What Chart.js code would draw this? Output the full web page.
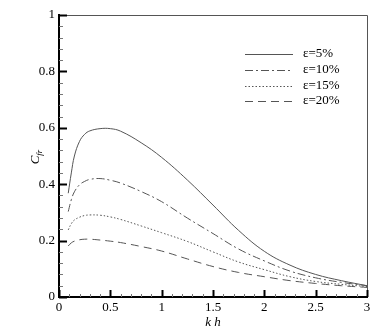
<!DOCTYPE html>
<html><head><meta charset="utf-8">
<script src="https://cdn.jsdelivr.net/npm/chart.js@4/dist/chart.umd.min.js"></script>
<style>html,body{margin:0;padding:0;background:#fff}#wrap{width:379px;height:336px}</style>
</head><body><div id="wrap"><canvas id="c" width="379" height="336"></canvas></div>
<script>
const kh    = [0.09,0.12,0.15,0.2,0.25,0.3,0.4,0.5,0.6,0.8,1.0,1.25,1.5,1.75,2.0,2.25,2.5,2.75,3.0];
const eps5  = [0.368,0.44,0.50,0.552,0.577,0.589,0.597,0.597,0.588,0.547,0.495,0.415,0.326,0.236,0.162,0.113,0.080,0.058,0.040];
const eps10 = [0.303,0.345,0.373,0.398,0.410,0.417,0.420,0.414,0.404,0.374,0.338,0.280,0.225,0.170,0.128,0.092,0.068,0.052,0.040];
const eps15 = [0.238,0.260,0.273,0.283,0.289,0.291,0.290,0.284,0.275,0.252,0.228,0.197,0.160,0.124,0.097,0.072,0.055,0.045,0.037];
const eps20 = [0.181,0.192,0.198,0.203,0.205,0.205,0.202,0.198,0.193,0.179,0.163,0.135,0.108,0.087,0.072,0.058,0.048,0.040,0.034];
const seriesLabels = ['ε=5%','ε=10%','ε=15%','ε=20%'];
const xTitle = 'k h';
const yTitleMain = 'C', yTitleSub = 'fr';

const dashes = [[], [8,3,2,3], [1.5,2], [8,5]];
const vals = [eps5, eps10, eps15, eps20];
const SERIF = "'Liberation Serif', serif";

const datasets = vals.map((v,i)=>({
  label: seriesLabels[i],
  data: kh.map((x,j)=>({x:x,y:v[j]})),
  borderColor:'#555', borderWidth:1, borderDash:dashes[i],
  pointRadius:0, fill:false, tension:0.4
}));

const deco = {
  id:'deco',
  afterDraw(chart){
    const ctx = chart.ctx, xs = chart.scales.x, ys = chart.scales.y, a = chart.chartArea;
    ctx.save();
    ctx.strokeStyle='#555'; ctx.lineWidth=1;
    ctx.beginPath();
    ctx.moveTo(a.left, a.top+0.5); ctx.lineTo(a.right+0.5, a.top+0.5); ctx.lineTo(a.right+0.5, a.bottom);
    ctx.stroke();
    for (let k=0;k<=25;k++){
      const v = k*0.04; const p = Math.round(ys.getPixelForValue(v))+0.5;
      const major = (k%5===0);
      ctx.lineWidth = major?2:1;
      ctx.strokeStyle = major?'#000':'#777';
      ctx.beginPath(); ctx.moveTo(a.left, p); ctx.lineTo(a.left+(major?8:4), p); ctx.stroke();
    }
    for (let k=0;k<=30;k++){
      const v = k*0.1; const p = Math.round(xs.getPixelForValue(v))+0.5;
      const major = (k%5===0);
      ctx.lineWidth = major?2:1;
      ctx.strokeStyle = major?'#000':'#777';
      ctx.beginPath(); ctx.moveTo(p, a.bottom); ctx.lineTo(p, a.bottom-(major?7:3)); ctx.stroke();
    }
    const rows = [54,70,85.5,101];
    ctx.font = '13px '+SERIF; ctx.textBaseline='middle'; ctx.textAlign='left';
    chart.data.datasets.forEach((d,i)=>{
      const y = Math.round(rows[i])+0.5;
      ctx.setLineDash(d.borderDash); ctx.lineWidth=1; ctx.strokeStyle=d.borderColor;
      ctx.beginPath(); ctx.moveTo(245,y); ctx.lineTo(293,y); ctx.stroke();
      ctx.setLineDash([]);
      ctx.fillStyle='#000'; ctx.fillText(d.label, 303, rows[i]);
    });
    ctx.translate(36,157); ctx.rotate(-Math.PI/2);
    ctx.fillStyle='#000'; ctx.textAlign='left'; ctx.textBaseline='middle';
    ctx.font='italic 13px '+SERIF;
    const w = ctx.measureText(yTitleMain).width;
    ctx.font='italic 9px '+SERIF;
    const ws = ctx.measureText(yTitleSub).width;
    const x0 = -(w+ws)/2;
    ctx.font='italic 13px '+SERIF; ctx.fillText(yTitleMain, x0, 0);
    ctx.font='italic 9px '+SERIF; ctx.fillText(yTitleSub, x0+w, 4);
    ctx.restore();
  }
};

const fmt = v => String(+Number(v).toFixed(2));

new Chart(document.getElementById('c'), {
  type:'line',
  data:{datasets},
  options:{
    responsive:false, animation:false, devicePixelRatio:1,
    layout:{padding:{top:15,right:12,left:0,bottom:0}},
    plugins:{legend:{display:false}, tooltip:{enabled:false}},
    scales:{
      x:{type:'linear', min:0, max:3,
        ticks:{stepSize:0.5, color:'#000', padding:3, maxRotation:0, font:{family:SERIF,size:13}, callback:fmt},
        grid:{display:false, drawTicks:false},
        border:{display:true, color:'#000', width:2},
        title:{display:true, text:xTitle, color:'#000', font:{family:SERIF,size:13,style:'italic'}, padding:{top:0,bottom:6}},
        afterFit(s){ s.height = 39; }
      },
      y:{type:'linear', min:0, max:1,
        ticks:{stepSize:0.2, color:'#000', padding:4, font:{family:SERIF,size:13}, callback:fmt},
        grid:{display:false, drawTicks:false},
        border:{display:true, color:'#000', width:2},
        afterFit(s){ s.width = 59; }
      }
    }
  },
  plugins:[deco]
});
</script></body></html>
